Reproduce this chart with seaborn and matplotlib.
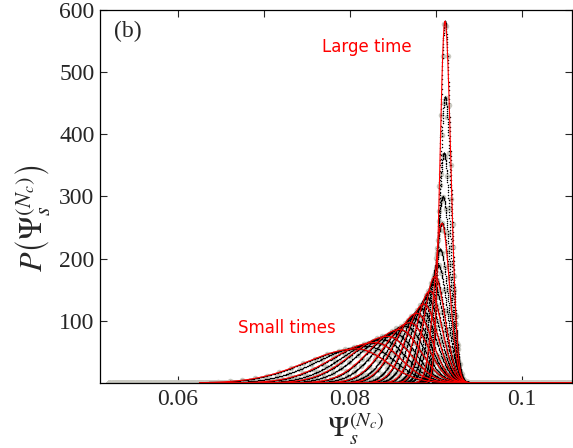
import numpy as np
import pandas as pd
import seaborn as sns
import matplotlib.pyplot as plt

# distribution snapshots, small times -> large time
centers = [0.08081, 0.08186, 0.08291, 0.08372, 0.08442, 0.08512, 0.08581, 0.08640,
           0.08698, 0.08744, 0.08779, 0.08826, 0.08860, 0.08895, 0.08930, 0.08965,
           0.08988, 0.09023, 0.09047, 0.09070, 0.09081, 0.09093, 0.09105, 0.09105]
heights = [55, 60, 65, 70, 75, 80, 86, 92, 97, 104, 112, 120, 127, 137, 148, 160,
           171, 190, 215, 257, 300, 370, 460, 582]
sig_left = [5.93, 5.43, 4.94, 4.54, 4.25, 3.95, 3.56, 3.26, 2.96, 2.67, 2.47, 2.17,
            1.98, 1.78, 1.58, 1.38, 1.28, 1.19, 1.09, 0.89, 0.79, 0.69, 0.64, 0.59]   # x1e-3
sig_right = [3.46, 3.26, 2.96, 2.77, 2.67, 2.47, 2.37, 2.17, 2.07, 1.88, 1.78, 1.68,
             1.58, 1.48, 1.38, 1.28, 1.19, 1.09, 0.99, 0.89, 0.84, 0.79, 0.74, 0.69]  # x1e-3
fit_idx = [0, 2, 4, 6, 8, 10, 12, 14, 16, 19, 23]   # snapshots drawn with a red fit

xticks = [0.06, 0.07, 0.08, 0.09, 0.1]
xticklabels = ['0.06', '', '0.08', '', '0.1']
yticks = [100, 200, 300, 400, 500, 600]


def profile(x, c, h, sl, sr):
    s = np.where(x < c, sl, sr) * 1e-3
    return h * np.exp(-0.5 * ((x - c) / s) ** 2)


black_rows, gray_rows, fit_rows = [], [], []
xf = np.arange(0.0625, 0.1058, 0.00002)
for i, (c, h, sl, sr) in enumerate(zip(centers, heights, sig_left, sig_right)):
    xb = np.arange(0.0625, 0.1058, 0.012 * (sl + sr) * 1e-3)
    black_rows.append(pd.DataFrame({'psi': xb, 'p': profile(xb, c, h, sl, sr)}))
    xg = np.arange(0.052, 0.1058, 0.15 * (sl + sr) * 1e-3)
    gray_rows.append(pd.DataFrame({'psi': xg, 'p': profile(xg, c, h, sl, sr)}))
    if i in fit_idx:
        fit_rows.append(pd.DataFrame({'psi': xf, 'p': profile(xf, c, h, sl, sr), 'curve': i}))
black_df = pd.concat(black_rows)
gray_df = pd.concat(gray_rows)
fit_df = pd.concat(fit_rows)

sns.set_style('ticks')
plt.rcParams['mathtext.fontset'] = 'stix'
serif = ['Liberation Serif', 'DejaVu Serif']

fig = plt.figure(figsize=(5.73, 4.48), dpi=100)
ax = fig.add_axes([0.1745, 0.1451, 0.8235, 0.8326])

sns.scatterplot(data=gray_df, x='psi', y='p', color='#c9c9c1', s=16, linewidth=0, ax=ax, legend=False)
sns.scatterplot(data=black_df, x='psi', y='p', color='black', s=1.1, linewidth=0, ax=ax, legend=False)
sns.lineplot(data=fit_df, x='psi', y='p', units='curve', estimator=None, color='red', lw=0.8, ax=ax)

ax.set_xlim(0.05093, 0.10581)
ax.set_ylim(0, 600)
ax.set_xticks(xticks)
ax.set_xticklabels(xticklabels, fontfamily=serif, fontsize=17)
ax.set_yticks(yticks)
ax.set_yticklabels([str(v) for v in yticks], fontfamily=serif, fontsize=17)
ax.tick_params(direction='in', top=True, right=True, length=5, width=0.8, pad=4)
for sp in ax.spines.values():
    sp.set_color('black')
    sp.set_linewidth(0.9)

ax.set_xlabel(r'$\Psi_s^{(N_c)}$', fontsize=21)
ax.xaxis.set_label_coords(0.542, -0.075)
ax.set_ylabel(r'$P\left(\Psi_s^{(N_c)}\right)$', fontsize=23)
ax.yaxis.set_label_coords(-0.1, 0.44)

ax.text(0.03, 0.97, '(b)', transform=ax.transAxes, ha='left', va='top', fontfamily=serif, fontsize=17)
ax.text(0.0767, 540, 'Large time', color='red', fontsize=12, ha='left', va='center')
ax.text(0.0670, 88, 'Small times', color='red', fontsize=12, ha='left', va='center')

fig.savefig('out.png', dpi=100)
